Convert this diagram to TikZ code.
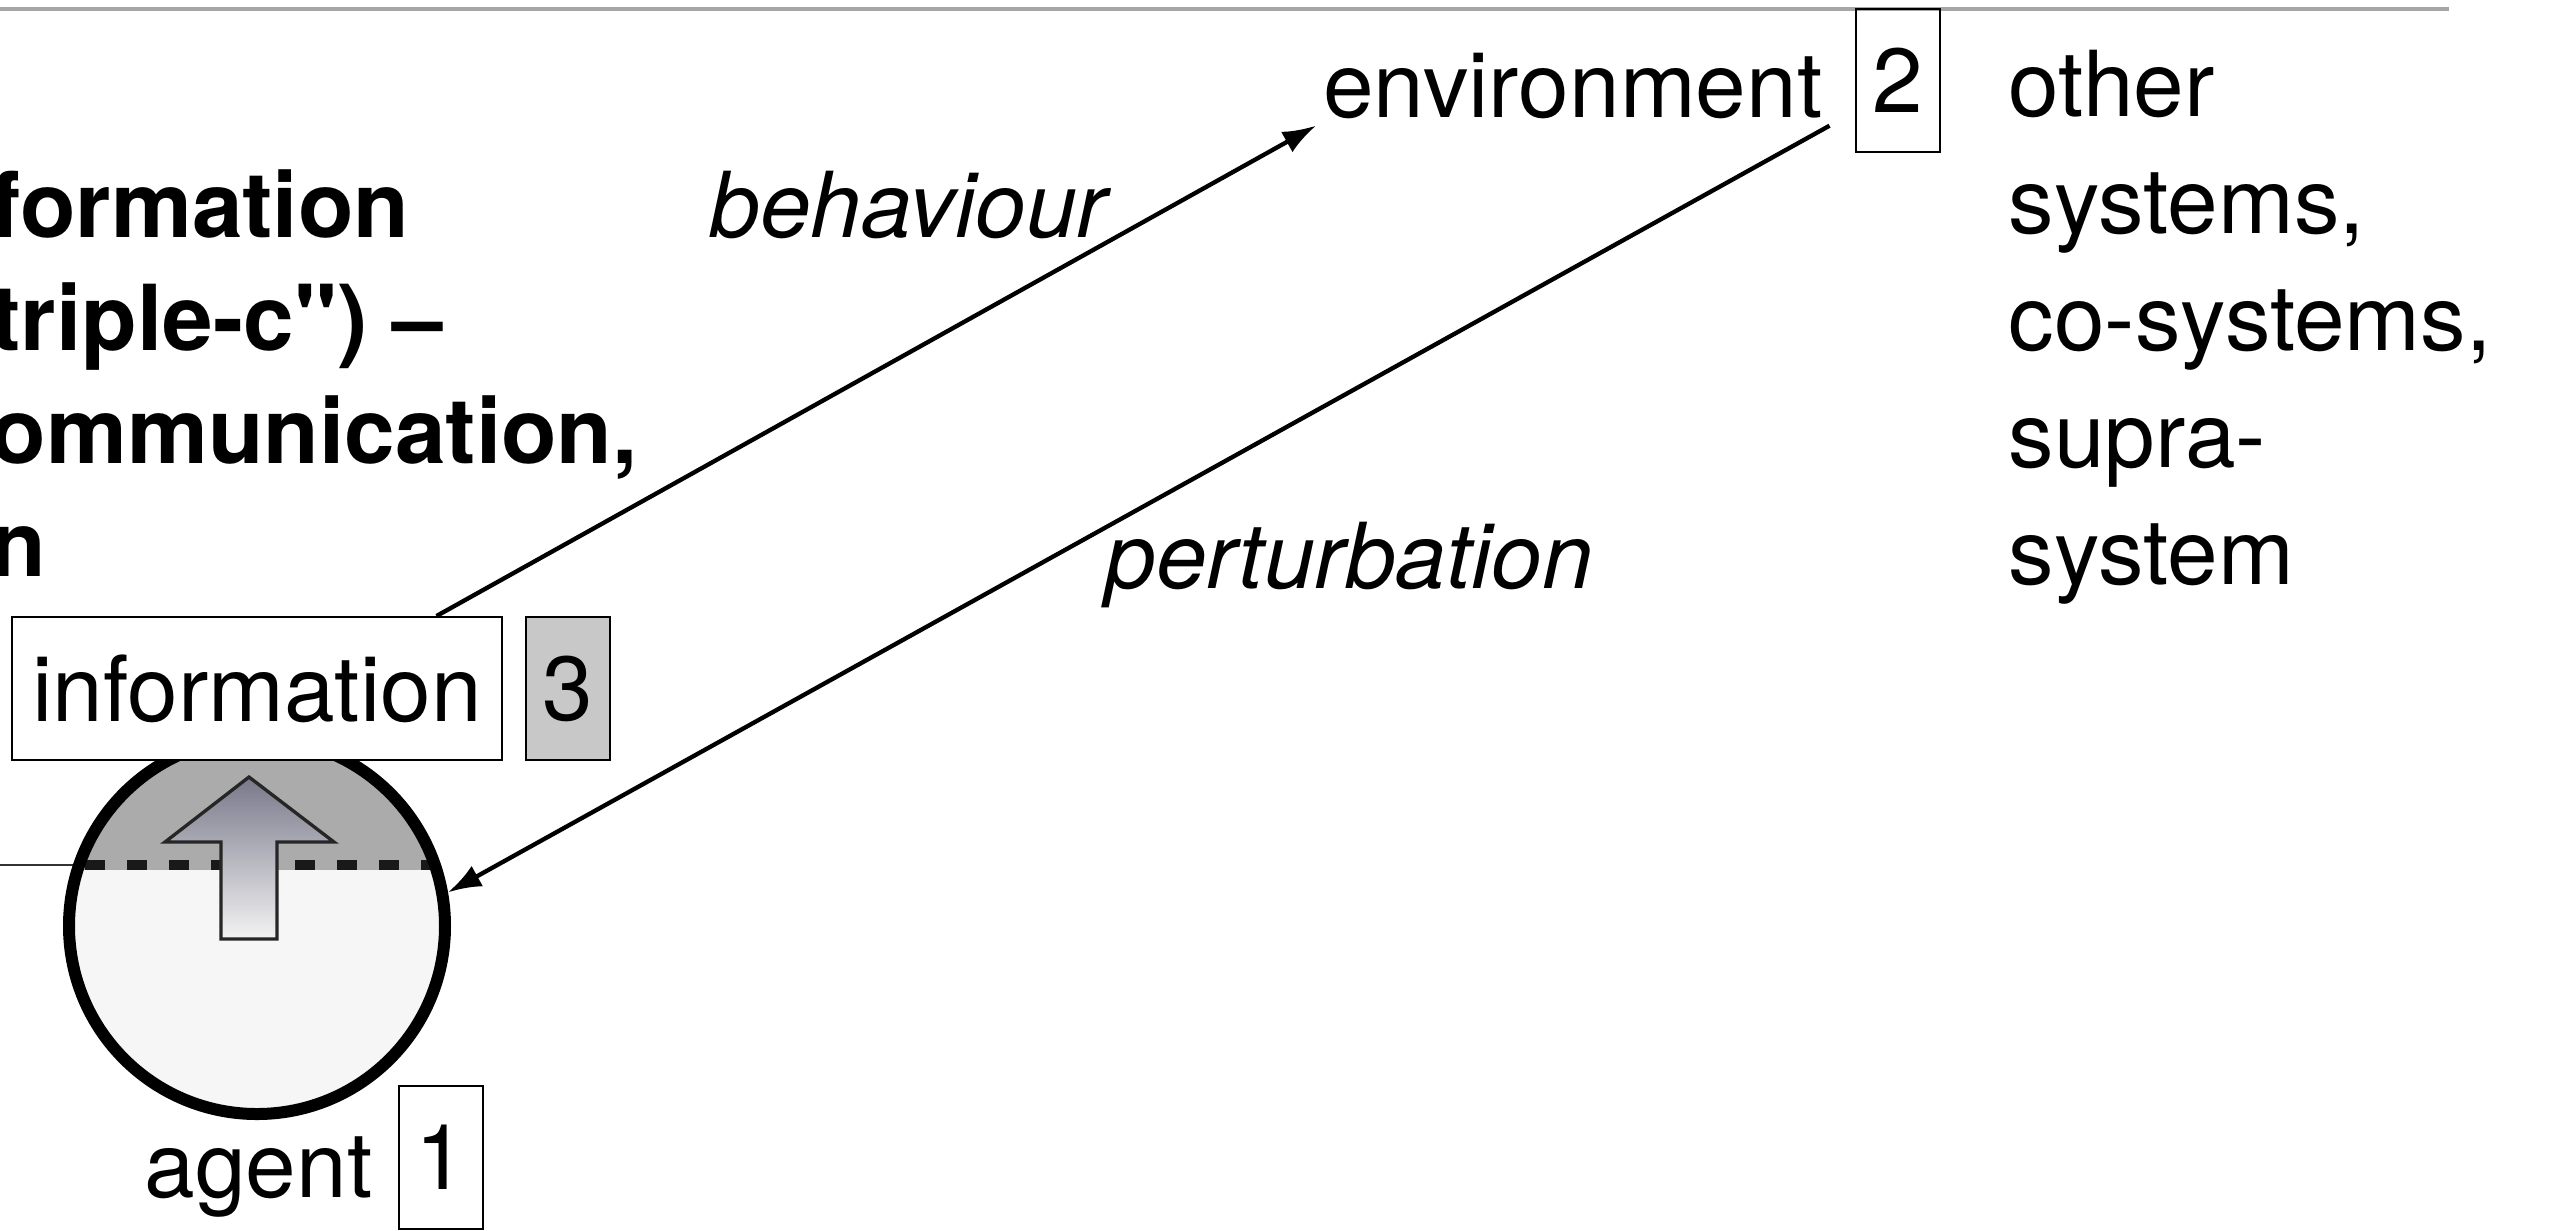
\documentclass[tikz,border=0pt]{standalone}
\usepackage{fontspec}
\setmainfont{TeX Gyre Heros}
\usetikzlibrary{arrows.meta}
\definecolor{capgray}{RGB}{171,171,171}
\definecolor{bodygray}{RGB}{246,246,246}
\definecolor{keygray}{RGB}{200,200,200}
\definecolor{rulegray}{RGB}{166,166,166}
\definecolor{arrowtop}{RGB}{120,120,138}
\definecolor{arrowbot}{RGB}{243,243,243}
\tikzset{
txt/.style={font=\fontsize{27.3}{35.1}\selectfont, inner sep=0pt},
numbox/.style={txt, draw, line width=0.6pt, minimum width=25.2pt, minimum height=42.9pt},
infobox/.style={txt, draw, fill=white, line width=0.6pt, minimum width=147pt, minimum height=42.9pt},
agentdisc/.style={circle, draw, line width=3.6pt, minimum size=112.8pt, inner sep=0pt},
flow/.style={line width=1.3pt, -{Latex[length=10pt,width=7pt]}}}

\begin{document}
\begin{tikzpicture}[x=0.3pt,y=0.3pt,yscale=-1,xscale=1]
\useasboundingbox (0,0) rectangle (2549,1230);

%Straight Lines
\draw [rulegray, line width=1pt] (0,9) -- (2449,9) ;
%Straight Lines
\draw [black!80, line width=0.4pt] (0,865) -- (78,865) ;

%Shape: Circle
\fill [bodygray] (257,926) circle [radius=188] ;
\begin{scope}
\clip (257,926) circle [radius=188] ;
\fill [capgray] (60,700) rectangle (460,870) ;
\draw [black!90, line width=3pt, dash pattern=on 6pt off 6.6pt] (85,865) -- (450,865) ;
\end{scope}
\node [agentdisc] (disc) at (257,926) {} ;

%Shape: Up Arrow
\draw [black!85, line width=1pt, top color=arrowtop, bottom color=arrowbot] (249,777) -- (334,842) -- (277,842) -- (277,939) -- (221,939) -- (221,842) -- (165,842) -- cycle ;

% Text Node
\node [infobox] (info) at (257,688.5) {information} ;
\node [numbox, fill=keygray] (key3) at (567.5,688.5) {3} ;
% Text Node
\node [txt, anchor=base west] (agent) at (144,1197) {agent} ;
\node [numbox] (key1) at (440.5,1157) {1} ;
% Text Node
\node [txt, inner sep=2pt, anchor=base west] (env) at (1316,117) {environment} ;
\node [numbox] (key2) at (1898,80.5) {2} ;
% Text Node (base is the last line)
\node [txt, align=left, anchor=base west] (others) at (2008,584) {other\\systems,\\co-systems,\\supra-\\system} ;
% Text Node (base is the last line)
\node [txt, font=\fontsize{27.3}{33.9}\selectfont\bfseries, align=left, anchor=base west] (claim) at (-10,576) {formation\\triple-c\textquotedbl) --\\ommunication,\\n} ;
% Text Node
\node [txt, font=\fontsize{27.3}{35.1}\selectfont\itshape, anchor=base west] (behav) at (709,237) {behaviour} ;
\node [txt, font=\fontsize{27.3}{35.1}\selectfont\itshape, anchor=base west] (pert) at (1105,588) {perturbation} ;

%Straight Lines
\draw [flow] (info.22.6) -- (env.south west) ;
\draw [flow] (env.south east) -- (disc.10) ;

\end{tikzpicture}
\end{document}
